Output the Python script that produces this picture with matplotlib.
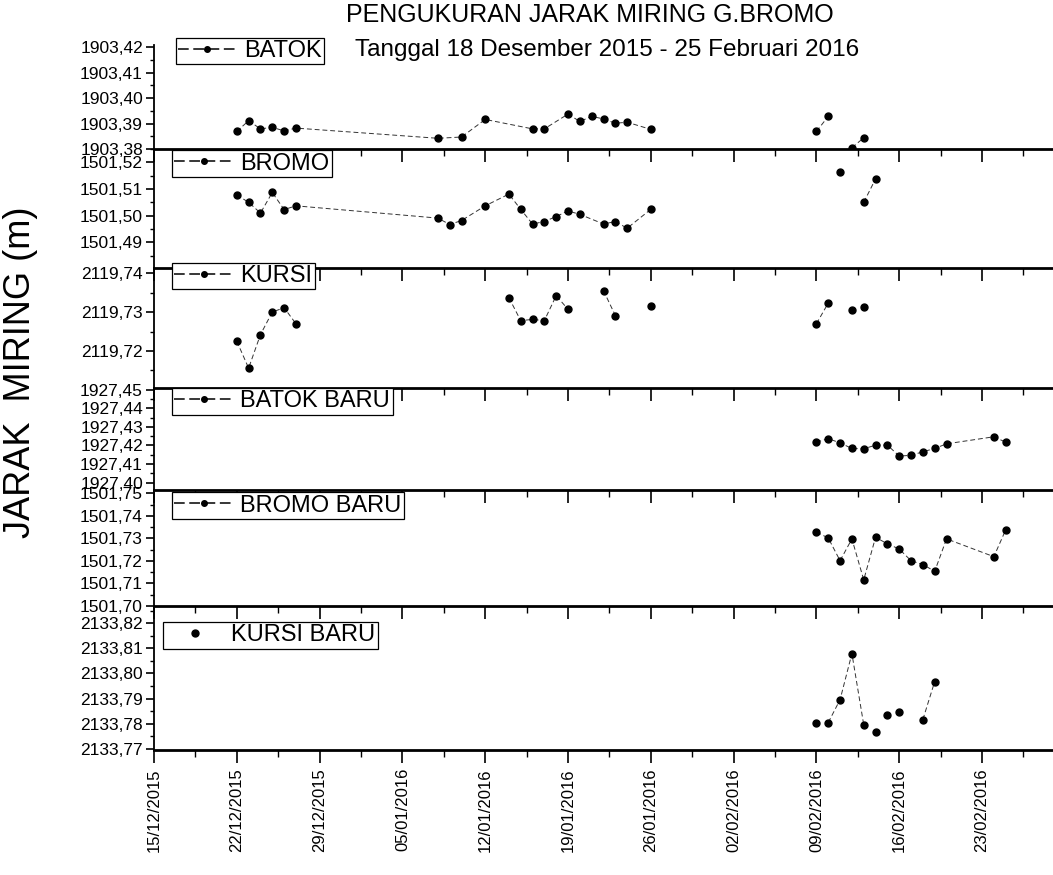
import numpy as np
import pandas as pd
import matplotlib
matplotlib.use("Agg")
import matplotlib.pyplot as plt
from matplotlib.lines import Line2D
from matplotlib.ticker import MultipleLocator, FuncFormatter, FixedLocator
import matplotlib.dates as mdates

plt.rcParams['font.family'] = ['Liberation Sans', 'DejaVu Sans']

title = "PENGUKURAN JARAK MIRING G.BROMO"
subtitle = "Tanggal 18 Desember 2015 - 25 Februari 2016"
ylabel = "JARAK  MIRING (m)"

# --- data ---
batok_dates = ['2015-12-22', '2015-12-23', '2015-12-24', '2015-12-25', '2015-12-26', '2015-12-27',
               '2016-01-08', '2016-01-10', '2016-01-12', '2016-01-16', '2016-01-17', '2016-01-19',
               '2016-01-20', '2016-01-21', '2016-01-22', '2016-01-23', '2016-01-24', '2016-01-26',
               '2016-02-09', '2016-02-10', '2016-02-12', '2016-02-13']
batok = [1903.3869, 1903.3911, 1903.3879, 1903.3885, 1903.3871, 1903.3882,
         1903.3842, 1903.3847, 1903.3916, 1903.3879, 1903.3879, 1903.3937,
         1903.3908, 1903.3928, 1903.3918, 1903.3901, 1903.3905, 1903.3877,
         1903.3869, 1903.3928, 1903.3805, 1903.3844]
batok_breaks = [18, 20]

bromo_dates = ['2015-12-22', '2015-12-23', '2015-12-24', '2015-12-25', '2015-12-26', '2015-12-27',
               '2016-01-08', '2016-01-09', '2016-01-10', '2016-01-12', '2016-01-14', '2016-01-15',
               '2016-01-16', '2016-01-17', '2016-01-18', '2016-01-19', '2016-01-20', '2016-01-22',
               '2016-01-23', '2016-01-24', '2016-01-26', '2016-02-11', '2016-02-13', '2016-02-14']
bromo = [1501.5078, 1501.5050, 1501.5010, 1501.5087, 1501.5023, 1501.5037,
         1501.4991, 1501.4967, 1501.4982, 1501.5037, 1501.5081, 1501.5024,
         1501.4969, 1501.4978, 1501.4997, 1501.5018, 1501.5005, 1501.4969,
         1501.4978, 1501.4953, 1501.5024, 1501.5165, 1501.5050, 1501.5138]
bromo_breaks = [21, 22]

kursi_dates = ['2015-12-22', '2015-12-23', '2015-12-24', '2015-12-25', '2015-12-26', '2015-12-27',
               '2016-01-14', '2016-01-15', '2016-01-16', '2016-01-17', '2016-01-18', '2016-01-19',
               '2016-01-22', '2016-01-23', '2016-01-26',
               '2016-02-09', '2016-02-10', '2016-02-12', '2016-02-13']
kursi = [2119.7225, 2119.7156, 2119.7242, 2119.7300, 2119.7311, 2119.7270,
         2119.7337, 2119.7278, 2119.7281, 2119.7278, 2119.7342, 2119.7307,
         2119.7355, 2119.7291, 2119.7316,
         2119.7270, 2119.7323, 2119.7304, 2119.7313]
kursi_breaks = [6, 12, 14, 15, 17, 18]

baru_dates = ['2016-02-09', '2016-02-10', '2016-02-11', '2016-02-12', '2016-02-13', '2016-02-14',
              '2016-02-15', '2016-02-16', '2016-02-17', '2016-02-18', '2016-02-19', '2016-02-20',
              '2016-02-24', '2016-02-25']
batok_baru = [1927.4218, 1927.4237, 1927.4214, 1927.4184, 1927.4182, 1927.4202,
              1927.4202, 1927.4143, 1927.4147, 1927.4166, 1927.4184, 1927.4209,
              1927.4247, 1927.4218]
bromo_baru = [1501.7328, 1501.7302, 1501.7201, 1501.7298, 1501.7116, 1501.7305,
              1501.7276, 1501.7253, 1501.7201, 1501.7184, 1501.7154, 1501.7298,
              1501.7219, 1501.7338]

kursi_baru_dates = ['2016-02-09', '2016-02-10', '2016-02-11', '2016-02-12', '2016-02-13',
                    '2016-02-14', '2016-02-15', '2016-02-16', '2016-02-18', '2016-02-19']
kursi_baru = [2133.7805, 2133.7805, 2133.7896, 2133.8079, 2133.7796,
              2133.7767, 2133.7835, 2133.7847, 2133.7817, 2133.7968]
kursi_baru_breaks = [1, 5, 6, 7, 8]

panels = [
    ("BATOK", batok_dates, batok, batok_breaks, (1903.38, 1903.4208), True),
    ("BROMO", bromo_dates, bromo, bromo_breaks, (1501.4804, 1501.525), True),
    ("KURSI", kursi_dates, kursi, kursi_breaks, (2119.7105, 2119.7413), True),
    ("BATOK BARU", baru_dates, batok_baru, [], (1927.396, 1927.451), True),
    ("BROMO BARU", baru_dates, bromo_baru, [], (1501.70, 1501.7515), True),
    ("KURSI BARU", kursi_baru_dates, kursi_baru, kursi_baru_breaks, (2133.7696, 2133.8268), False),
]

# panel edges in pixels (top, bottom) of a 1053x875 image
edges_px = [(45, 149), (149, 268), (268, 388), (388, 490), (490, 606), (606, 750)]
legend_anchor = [(0.024, 1.07), (0.02, 0.99), (0.02, 1.045), (0.02, 1.0), (0.02, 0.98), (0.01, 0.89)]

W, H = 1053, 875
fig = plt.figure(figsize=(W / 100, H / 100), dpi=100)

xmin = pd.Timestamp('2015-12-15')
xmax = pd.Timestamp('2016-02-29')
major_ticks = mdates.date2num(pd.date_range(xmin, xmax, freq='7D'))
minor_ticks = mdates.date2num(pd.date_range(xmin, xmax, freq='84h'))

comma = FuncFormatter(lambda v, p: f"{v:.2f}".replace('.', ','))

left_px = 154
for i, (name, dates, vals, breaks, ylim, has_line) in enumerate(panels):
    top, bot = edges_px[i]
    ax = fig.add_axes([left_px / W, 1 - bot / H, (W - left_px) / W, (bot - top) / H])
    x = pd.to_datetime(dates)
    y = np.array(vals, dtype=float)
    cuts = [0] + list(breaks) + [len(y)]
    for a, b in zip(cuts[:-1], cuts[1:]):
        ax.plot(x[a:b], y[a:b], color='#333333', lw=0.7, ls=(0, (5, 3)),
                marker='o', ms=5, mfc='k', mec='k')
    if has_line:
        h = Line2D([], [], color='k', lw=1.1, ls=(0, (7, 3)), marker='o', ms=4)
    else:
        h = Line2D([], [], color='k', lw=0, marker='o', ms=5)
    leg = ax.legend([h], [name], loc='upper left', bbox_to_anchor=legend_anchor[i],
                    frameon=True, fancybox=False, edgecolor='k', framealpha=1,
                    fontsize=17, handlelength=2.5, borderpad=0.1, handletextpad=0.3,
                    borderaxespad=0)
    leg.get_frame().set_linewidth(0.9)

    ax.set_xlim(mdates.date2num(xmin), mdates.date2num(xmax))
    ax.set_ylim(*ylim)
    ax.yaxis.set_major_locator(MultipleLocator(0.01))
    ax.yaxis.set_minor_locator(MultipleLocator(0.005))
    ax.yaxis.set_major_formatter(comma)
    ax.xaxis.set_major_locator(FixedLocator(major_ticks))
    ax.xaxis.set_minor_locator(FixedLocator(minor_ticks))
    ax.tick_params(axis='y', which='major', direction='out', length=6, width=1.2,
                   labelsize=12.5, pad=2)
    ax.tick_params(axis='y', which='minor', direction='out', length=3, width=1.0)
    ax.tick_params(axis='x', which='major', direction='out', length=9, width=1.2,
                   top=False, bottom=True)
    ax.tick_params(axis='x', which='minor', direction='out', length=5, width=1.0,
                   top=False, bottom=True)
    for s in ['top', 'right']:
        ax.spines[s].set_visible(False)
    ax.spines['bottom'].set_linewidth(2.0)
    ax.spines['left'].set_linewidth(1.3)
    if i < len(panels) - 1:
        ax.tick_params(axis='x', labelbottom=False)
    else:
        ax.xaxis.set_major_formatter(mdates.DateFormatter('%d/%m/%Y'))
        ax.tick_params(axis='x', labelsize=12, labelrotation=90, pad=4)
    ax.patch.set_alpha(0)

fig.text(590 / W, 1 - 15 / H, title, ha='center', va='center', fontsize=18)
fig.text(607 / W, 1 - 50 / H, subtitle, ha='center', va='center', fontsize=17.5)
fig.text(21 / W, 1 - 372 / H, ylabel, ha='center', va='center', rotation=90, fontsize=26)

fig.savefig('out.png', dpi=100)
